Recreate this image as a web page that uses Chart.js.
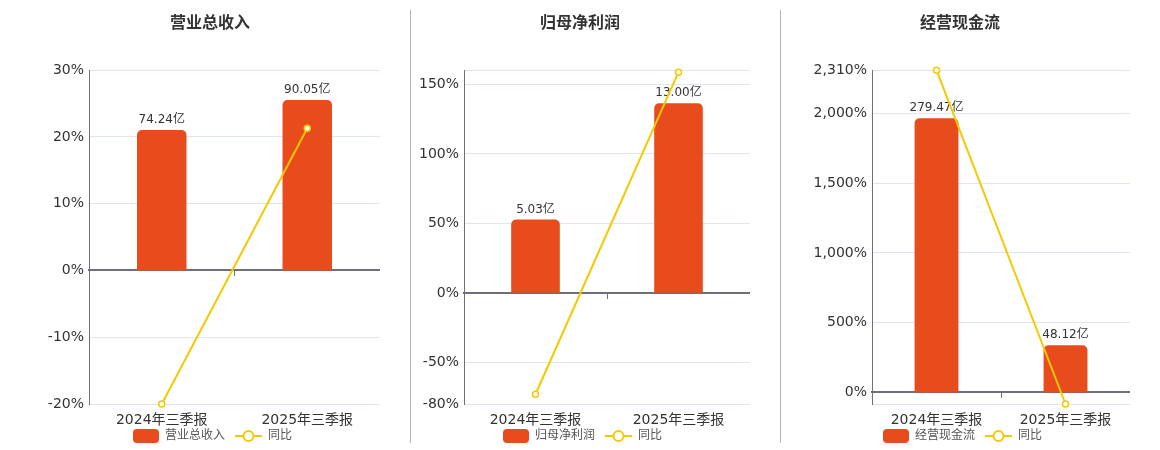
<!DOCTYPE html>
<html><head><meta charset="utf-8">
<script src="https://cdn.jsdelivr.net/npm/chart.js@4.4.1/dist/chart.umd.min.js"></script>
<style>
html,body{margin:0;padding:0;background:#fff;width:1160px;height:450px;overflow:hidden;}
.panel{position:absolute;top:0;width:340px;height:450px;}
.panel canvas{display:block;}
.sep{position:absolute;top:10px;height:433px;width:1px;background:#b4b4b4;}
</style></head><body>
<div class="sep" style="left:410px"></div>
<div class="sep" style="left:780px"></div>
<div class="panel" style="left:40px"><canvas id="c1" width="340" height="450"></canvas></div>
<div class="panel" style="left:410px"><canvas id="c2" width="340" height="450"></canvas></div>
<div class="panel" style="left:790px"><canvas id="c3" width="340" height="450"></canvas></div>
<script>
const categories = ['2024年三季报', '2025年三季报'];
const revenue = [74.24, 90.05];
const revenueYoY = [-20.0, 21.30];
const profit = [5.03, 13.00];
const profitYoY = [-73.0, 158.9];
const cashflow = [279.47, 48.12];
const cashflowYoY = [2310, -82.78];
const revenueTicks = [-20, -10, 0, 10, 20, 30];
const profitTicks = [-80, -50, 0, 50, 100, 150];
const cashflowTicks = [0, 500, 1000, 1500, 2000, 2310];
const revenueRange = [-20, 30];
const profitRange = [-80, 160.3];
const cashflowRange = [-82.78, 2310];

const FAMILY = '"DejaVu Sans", "Noto Sans CJK SC", sans-serif';
const BAR_COLOR = '#E84B1C';
const LINE_COLOR = '#F5C900';

function boxIcon() {
  const c = document.createElement('canvas'); c.width = 35; c.height = 14;
  const g = c.getContext('2d'); const r = 4, x0 = 9, w = 26, h = 14;
  g.fillStyle = BAR_COLOR; g.beginPath();
  g.moveTo(x0 + r, 0); g.lineTo(x0 + w - r, 0); g.arcTo(x0 + w, 0, x0 + w, r, r); g.lineTo(x0 + w, h - r);
  g.arcTo(x0 + w, h, x0 + w - r, h, r); g.lineTo(x0 + r, h); g.arcTo(x0, h, x0, h - r, r); g.lineTo(x0, r);
  g.arcTo(x0, 0, x0 + r, 0, r); g.closePath(); g.fill();
  return c;
}
function lineIcon() {
  const c = document.createElement('canvas'); c.width = 35; c.height = 14;
  const g = c.getContext('2d');
  g.strokeStyle = LINE_COLOR; g.lineWidth = 2;
  g.beginPath(); g.moveTo(8, 7); g.lineTo(35, 7); g.stroke();
  g.beginPath(); g.arc(21.5, 7, 5, 0, Math.PI * 2); g.fillStyle = '#fff'; g.fill(); g.stroke();
  return c;
}
const icons = [boxIcon(), lineIcon()];

const barLabelPlugin = {
  id: 'barLabels',
  afterDatasetDraw(chart, args) {
    if (args.index !== 0) return;
    const ctx = chart.ctx;
    const ds = chart.data.datasets[0];
    ctx.save();
    ctx.font = '12px ' + FAMILY;
    ctx.fillStyle = '#333';
    ctx.textAlign = 'center';
    ctx.textBaseline = 'bottom';
    args.meta.data.forEach((el, i) => {
      ctx.fillText(ds.data[i].toFixed(2) + '亿', el.x, el.y - 4);
    });
    ctx.restore();
  }
};

const legendShiftPlugin = {
  id: 'legendShift',
  afterLayout(chart) {
    if (chart.legend) { chart.legend.left -= 2; chart.legend.right -= 2; }
  }
};

function makeChart(id, title, barLabel, bars, yoy, ticks, range, yWidth) {
  const barMax = Math.max(...bars) * 1.175;
  const barMin = barMax * range[0] / range[1];
  return new Chart(document.getElementById(id), {
    type: 'bar',
    data: {
      labels: categories,
      datasets: [
        {
          type: 'bar', label: barLabel, data: bars, xAxisID: 'x', yAxisID: 'yb', order: 1,
          backgroundColor: BAR_COLOR, borderRadius: {topLeft: 5, topRight: 5, bottomLeft: 0, bottomRight: 0},
          borderSkipped: false, barPercentage: 0.34, categoryPercentage: 1
        },
        {
          type: 'line', label: '同比', data: yoy, xAxisID: 'x', yAxisID: 'y', order: 0,
          borderColor: LINE_COLOR, borderWidth: 2, pointRadius: 3, pointBackgroundColor: '#fff',
          pointBorderColor: LINE_COLOR, pointBorderWidth: 1.5, tension: 0, clip: false
        }
      ]
    },
    options: {
      responsive: false, animation: false, events: [], devicePixelRatio: 1,
      layout: {autoPadding: false, padding: {left: 0, right: 0, top: 0, bottom: -2}},
      plugins: {
        tooltip: {enabled: false},
        title: {
          display: true, text: title, color: '#333',
          font: {size: 16, weight: 'bold', family: FAMILY},
          padding: {top: 14, bottom: 37}
        },
        legend: {
          position: 'bottom',
          labels: {
            usePointStyle: true, pointStyleWidth: 35, boxHeight: 12,
            font: {size: 12, family: FAMILY}, color: '#555', padding: 2,
            generateLabels: (chart) => chart.data.datasets.map((ds, i) => ({
              text: ds.label, pointStyle: icons[i], datasetIndex: i, hidden: false,
              lineWidth: 0, strokeStyle: 'rgba(0,0,0,0)', fillStyle: 'rgba(0,0,0,0)', fontColor: '#555'
            }))
          }
        }
      },
      scales: {
        x: {
          type: 'category', offset: true, position: 'bottom',
          grid: {display: false, drawTicks: false}, border: {display: false},
          ticks: {color: '#333', font: {size: 14, family: FAMILY}, padding: 8, maxRotation: 0, autoSkip: false},
          afterFit: (s) => { s.height = 24; }
        },
        x2: {
          type: 'category', offset: true, position: {y: 0}, z: 1,
          grid: {offset: true, drawOnChartArea: false, drawTicks: true, tickLength: 5, color: '#6E7079', lineWidth: 1},
          border: {display: true, color: '#6E7079', width: 2},
          ticks: {display: false}
        },
        y: {
          type: 'linear', position: 'left', min: range[0], max: range[1],
          afterBuildTicks: (s) => {
            const vals = [...new Set([range[0], ...ticks, range[1]])].sort((a, b) => a - b);
            s.ticks = vals.map(v => ({value: v}));
          },
          afterFit: (s) => { s.width = yWidth; },
          ticks: {
            autoSkip: false, color: '#333', font: {size: 14, family: FAMILY}, padding: 5,
            callback: (v) => ticks.includes(v) ? v.toLocaleString('en-US') + '%' : ''
          },
          grid: {color: '#E0E6F1', drawTicks: false},
          border: {display: true, color: '#6E7079', width: 1}
        },
        yb: {
          type: 'linear', display: false, min: barMin, max: barMax
        }
      }
    },
    plugins: [barLabelPlugin, legendShiftPlugin]
  });
}

makeChart('c1', '营业总收入', '营业总收入', revenue, revenueYoY, revenueTicks, revenueRange, 49);
makeChart('c2', '归母净利润', '归母净利润', profit, profitYoY, profitTicks, profitRange, 54);
makeChart('c3', '经营现金流', '经营现金流', cashflow, cashflowYoY, cashflowTicks, cashflowRange, 82);
</script>
</body></html>
